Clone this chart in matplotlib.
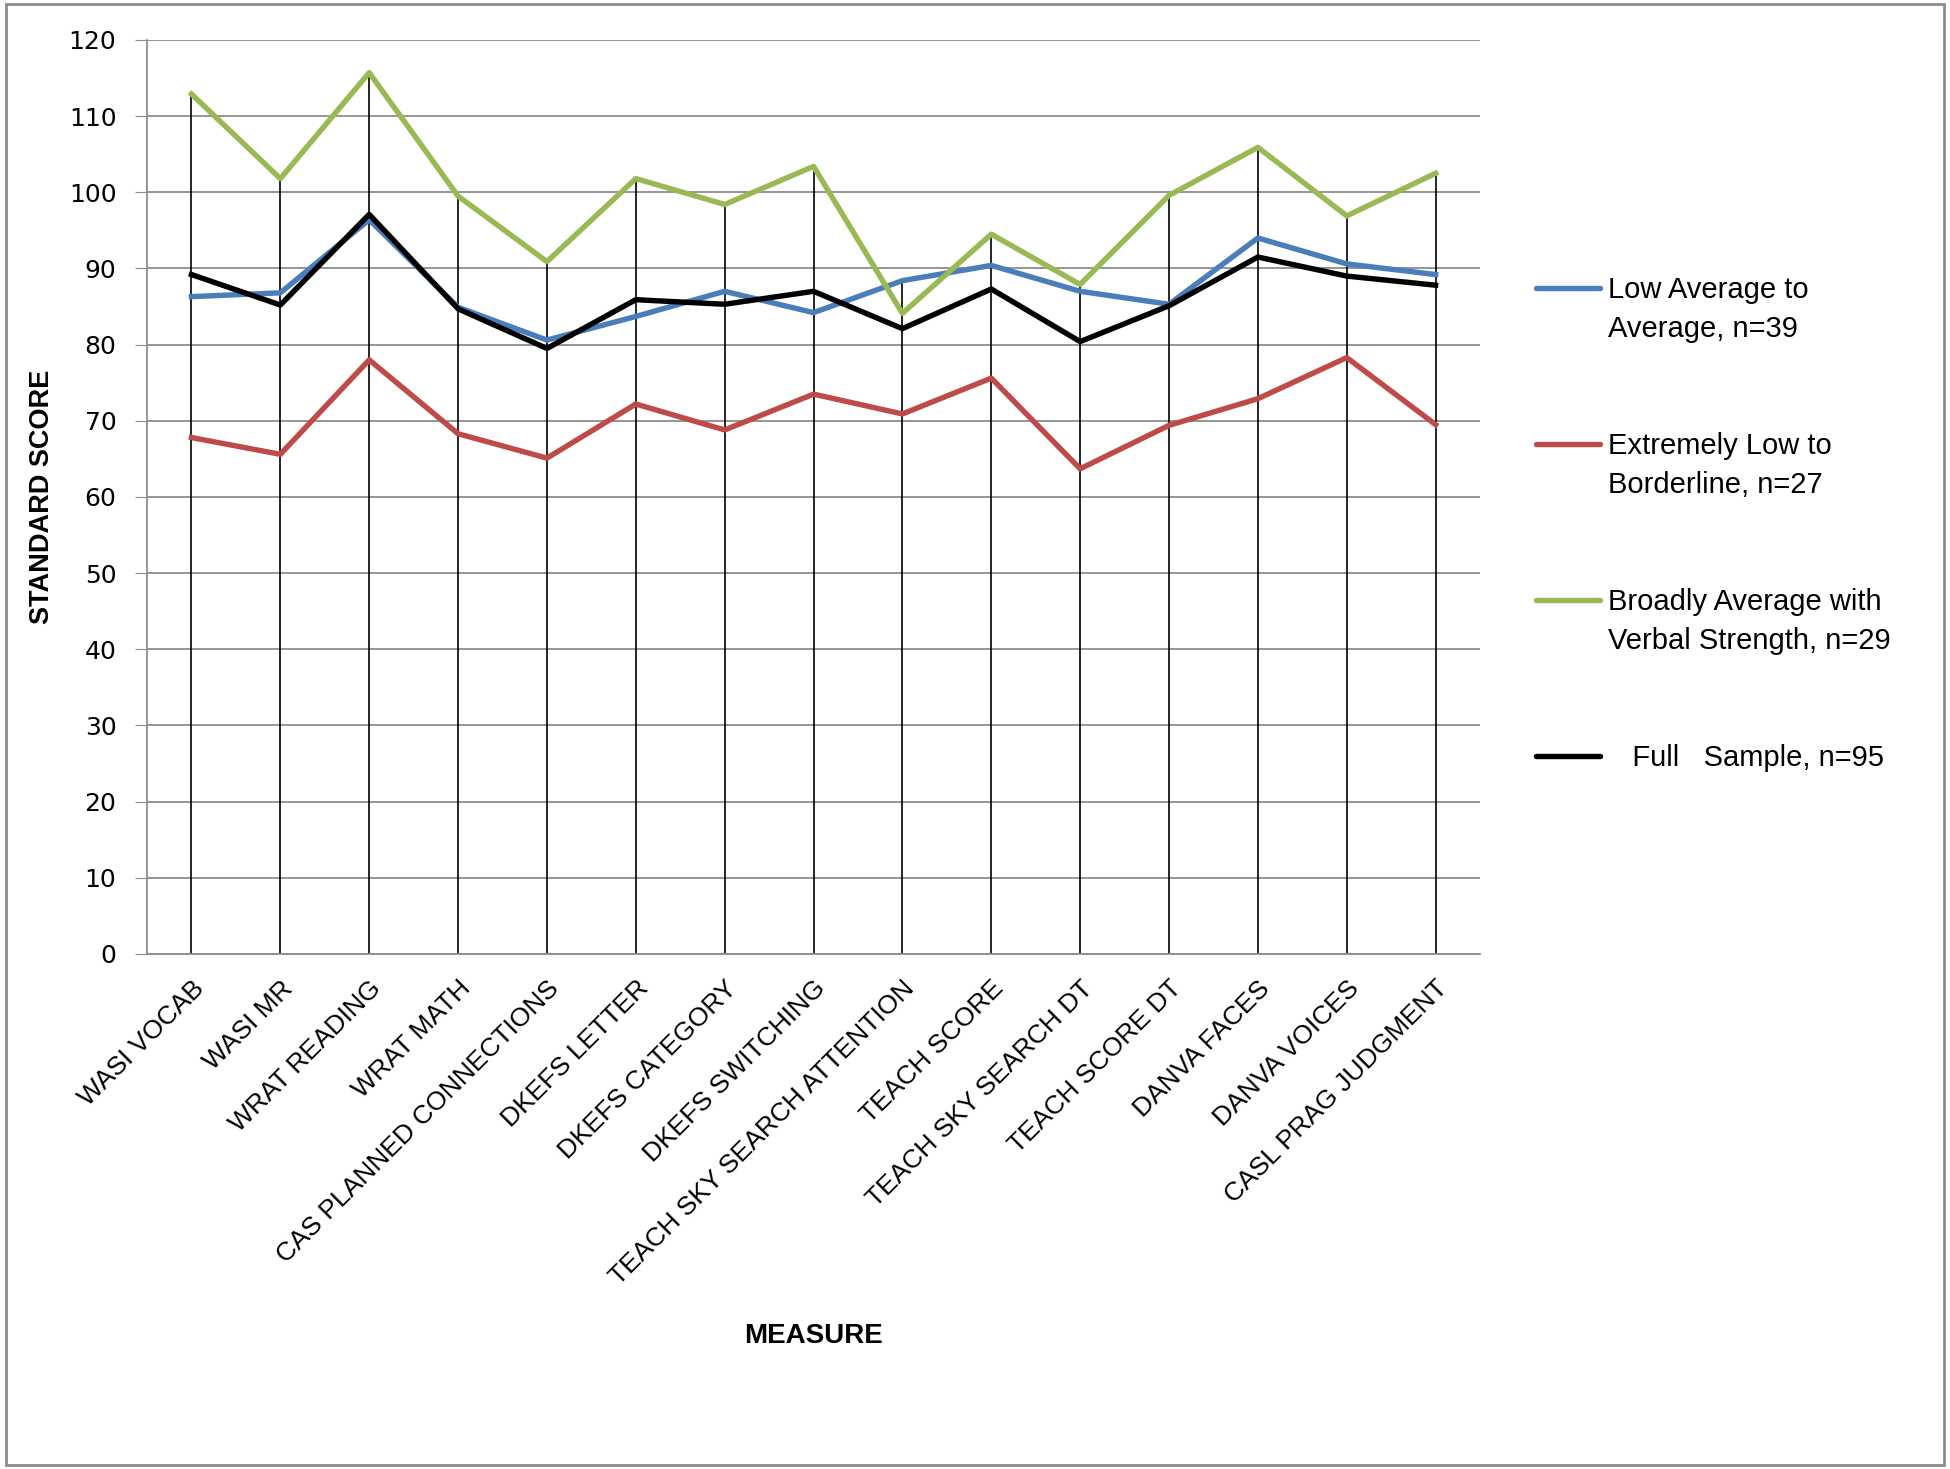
import matplotlib
matplotlib.use('Agg')
import matplotlib.pyplot as plt
from matplotlib.patches import Rectangle
from matplotlib.lines import Line2D

plt.rcParams['font.family'] = ['Liberation Sans', 'DejaVu Sans']

# measures on the x axis
measures = ['WASI VOCAB', 'WASI MR', 'WRAT READING', 'WRAT MATH',
            'CAS PLANNED CONNECTIONS', 'DKEFS LETTER', 'DKEFS CATEGORY',
            'DKEFS SWITCHING', 'TEACH SKY SEARCH ATTENTION', 'TEACH SCORE',
            'TEACH SKY SEARCH DT', 'TEACH SCORE DT', 'DANVA FACES',
            'DANVA VOICES', 'CASL PRAG JUDGMENT']

# group means
low_avg = [86.3, 86.8, 96.4, 84.9, 80.6, 83.7, 87.0, 84.2, 88.4, 90.4, 87.0, 85.3, 94.0, 90.6, 89.2]
ext_low = [67.8, 65.6, 78.0, 68.3, 65.1, 72.2, 68.8, 73.5, 70.9, 75.6, 63.7, 69.4, 72.9, 78.3, 69.5]
broad_avg = [112.9, 101.8, 115.7, 99.5, 90.9, 101.8, 98.4, 103.4, 84.1, 94.5, 87.9, 99.6, 105.9, 96.9, 102.5]
full = [89.2, 85.2, 97.1, 84.7, 79.5, 85.9, 85.3, 87.0, 82.1, 87.3, 80.4, 85.1, 91.5, 89.0, 87.8]

labels = ['Low Average to\nAverage, n=39',
          'Extremely Low to\nBorderline, n=27',
          'Broadly Average with\nVerbal Strength, n=29',
          '   Full   Sample, n=95']
colors = ['#4A7EBB', '#BE4B48', '#98B954', '#000000']

W, H = 1950, 1469
fig = plt.figure(figsize=(W / 100, H / 100), dpi=100)
ax = fig.add_axes([0.0754, 0.3506, 0.6836, 0.6222])

x = list(range(len(measures)))

# drop lines from the highest point down to the axis
tops = [max(v) for v in zip(low_avg, ext_low, broad_avg, full)]
ax.vlines(x, 0, tops, color='black', lw=1.2, zorder=2)

for vals, c in zip([low_avg, ext_low, broad_avg, full], colors):
    ax.plot(x, vals, color=c, lw=3.9, zorder=3)

ax.set_xlim(-0.5, len(measures) - 0.5)
ax.set_ylim(0, 120)
ax.set_yticks(range(0, 121, 10))
ax.grid(axis='y', color='#8c8c8c', lw=1.3)
ax.set_axisbelow(True)

for s in ['top', 'right']:
    ax.spines[s].set_visible(False)
for s in ['left', 'bottom']:
    ax.spines[s].set_color('#8c8c8c')
    ax.spines[s].set_linewidth(1.3)

ax.set_xticks(x)
ax.set_xticklabels(measures, rotation=45, ha='right', rotation_mode='anchor', fontsize=19)
ax.tick_params(axis='x', length=0, pad=16)
ax.tick_params(axis='y', length=9, color='#8c8c8c', pad=13)
for t in ax.get_yticklabels():
    t.set_fontfamily('DejaVu Sans')
    t.set_fontsize(18)

ax.set_ylabel('STANDARD SCORE', fontsize=19.5, fontweight='bold', labelpad=10)
ax.set_xlabel('MEASURE', fontsize=20, fontweight='bold', labelpad=24)

# legend, Excel style: key on the first line of each entry
key_y = [288, 444, 600, 756]
for lab, c, yk in zip(labels, colors, key_y):
    fig.add_artist(Line2D([1536 / W, 1600 / W], [1 - yk / H, 1 - yk / H],
                          color=c, lw=3.9, solid_capstyle='round'))
    fig.text(1608 / W, 1 - (yk - 12) / H, lab, fontsize=21, va='top', ha='left',
             linespacing=1.52)

fig.patches.append(Rectangle((0.003, 0.003), 0.994, 0.994, transform=fig.transFigure,
                             fill=False, edgecolor='#8c8c8c', lw=2))

fig.savefig('out.png', dpi=100)
